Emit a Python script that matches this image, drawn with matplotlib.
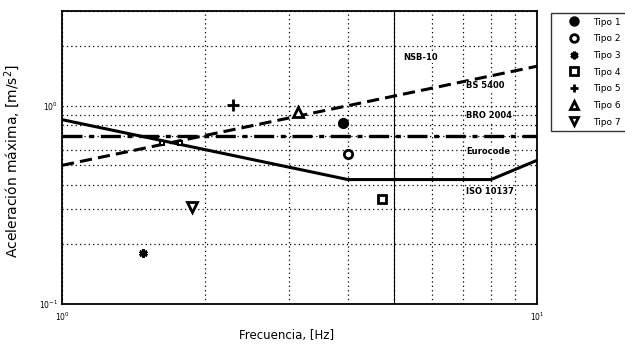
import matplotlib
matplotlib.use("Agg")
import matplotlib.pyplot as plt
from matplotlib.ticker import LogLocator, NullFormatter

# Criteria curves
bs_f = [1.0, 10.0]
bs_a = [0.50, 1.58]
iso_f = [1.0, 4.0, 8.0, 10.0]
iso_a = [0.85, 0.424, 0.424, 0.53]
bro_f = [1.0, 10.0]
bro_a = [0.70, 0.70]
vline_f = 5.0

# Measured points per type
tipo_names = ["Tipo 1", "Tipo 2", "Tipo 3", "Tipo 4", "Tipo 5", "Tipo 6", "Tipo 7"]
tipo_f = [[3.9], [4.0], [1.48], [4.72], [2.29], [3.14], [1.88]]
tipo_a = [[0.82], [0.57], [0.18], [0.34], [1.01], [0.93], [0.31]]
tipo_markers = ["o", "o", (6, 2, 0), "s", "+", "^", "v"]
tipo_fill = [True, False, True, False, True, False, False]
tipo_size = [6, 6, 6, 6, 8, 6.5, 6.5]

cross_f = [1.62, 1.77]
cross_a = [0.65, 0.65]

labels = ["NSB-10", "BS 5400", "BRO 2004", "Eurocode", "ISO 10137"]
label_f = [5.22, 7.1, 7.1, 7.1, 7.1]
label_a = [1.74, 1.26, 0.89, 0.59, 0.37]

fig = plt.figure(figsize=(6.25, 3.49), dpi=100)
ax = fig.add_axes([62/625, 1-304/349, 475/625, 293/349])
ax.set_xscale("log")
ax.set_yscale("log")
ax.set_xlim(1, 10)
ax.set_ylim(0.1, 3)

ax.grid(True, which="both", color="black", linestyle=(0, (1, 2.5)), linewidth=0.9)
ax.set_axisbelow(True)

ax.plot(bs_f, bs_a, color="black", linestyle=(0, (4, 2)), linewidth=2.2)
ax.plot(iso_f, iso_a, color="black", linestyle="-", linewidth=2.2)
ax.plot(bro_f, bro_a, color="black", linestyle=(0, (6, 2, 1.5, 2)), linewidth=2.4)
ax.axvline(vline_f, color="black", linewidth=0.8)

handles = []
for name, f, a, m, fill, ms in zip(tipo_names, tipo_f, tipo_a, tipo_markers, tipo_fill, tipo_size):
    h, = ax.plot(f, a, linestyle="none", marker=m, markersize=ms,
                 markerfacecolor="black" if fill else "white",
                 markeredgecolor="black", markeredgewidth=2.0, label=name)
    handles.append(h)
ax.plot(cross_f, cross_a, linestyle="none", marker="s", markersize=3.5,
        markerfacecolor="white", markeredgecolor="black", markeredgewidth=1.5)

for t, f, a in zip(labels, label_f, label_a):
    ax.text(f, a, t, fontsize=6, fontweight="bold", va="center", ha="left",
            bbox=dict(facecolor="white", edgecolor="none", pad=0.5))

ax.set_xticks([1, 10])
ax.set_xticklabels([r"$10^0$", r"$10^1$"], fontsize=5.5)
ax.set_yticks([0.1, 1])
ax.set_yticklabels([r"$10^{-1}$", r"$10^0$"], fontsize=5.5)
ax.xaxis.set_minor_locator(LogLocator(base=10, subs=range(2, 10)))
ax.yaxis.set_minor_locator(LogLocator(base=10, subs=range(2, 10)))
ax.xaxis.set_minor_formatter(NullFormatter())
ax.yaxis.set_minor_formatter(NullFormatter())
ax.tick_params(which="both", length=0)
ax.tick_params(axis="x", pad=5)
ax.tick_params(axis="y", pad=3)
for s in ax.spines.values():
    s.set_linewidth(1.3)

ax.set_xlabel("Frecuencia, [Hz]", fontsize=8.5)
ax.xaxis.set_label_coords(0.473, -0.085)
ax.set_ylabel("Aceleración máxima, [m/s$^2$]", fontsize=10)
ax.yaxis.set_label_coords(-0.085, 0.49)

leg = fig.legend(handles=handles, loc="upper left", bbox_to_anchor=(551/625, 1-13/349),
                 fontsize=6.5, frameon=True, fancybox=False, edgecolor="black",
                 handlelength=4.0, handletextpad=0.2, borderpad=0.5,
                 labelspacing=0.85, borderaxespad=0)
leg.get_frame().set_linewidth(1.0)
for h in leg.legend_handles:
    h.set_markersize(5.5)

fig.savefig("out.png", dpi=100)
